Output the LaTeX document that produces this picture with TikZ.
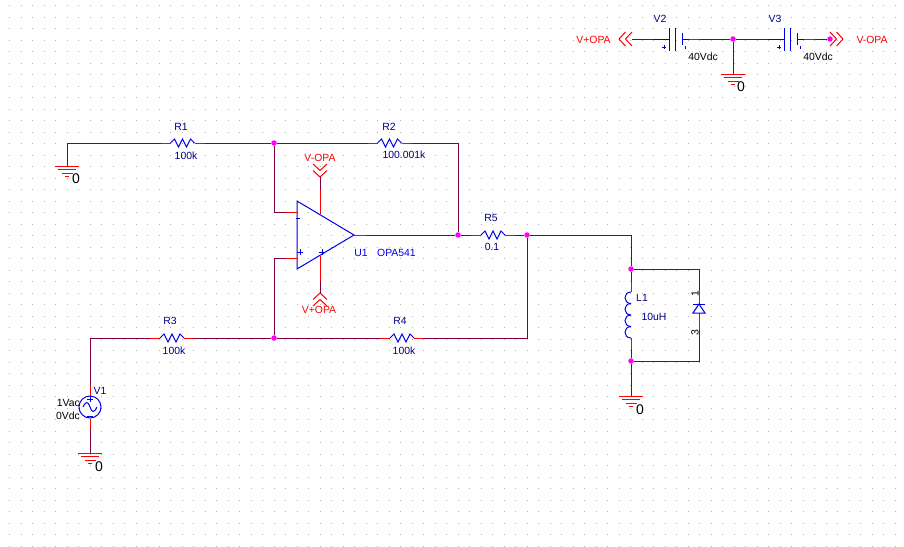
\documentclass[tikz,border=0pt]{standalone}
\usepackage{fontspec}
\setmainfont{Liberation Sans}
\definecolor{wirecol}{HTML}{7F0040}
\definecolor{bodycol}{HTML}{0000E6}
\definecolor{namecol}{HTML}{00007F}
\definecolor{dotcol}{HTML}{FF00FF}
\tikzset{
  wire/.style={draw=wirecol, line width=1pt},
  pinred/.style={draw=red, line width=1pt},
  partblue/.style={draw=bodycol, line width=1pt},
  netlbl/.style={text=red},
  namelbl/.style={text=namecol},
  partlbl/.style={text=bodycol},
  vallbl/.style={text=black},
  zerolbl/.style={text=black, font=\fontsize{14}{16}\selectfont},
  jdot/.style={circle, fill=dotcol, inner sep=0pt, minimum size=5.5pt},
  pics/resistor/.style={code={
    \coordinate (-l) at (-22,0);
    \coordinate (-r) at (22,0);
    \draw[pinred] (-22,0) -- (-12,0);
    \draw[pinred] (12,0) -- (22,0);
    \draw[partblue] (-12,0) -- (-8,-4) -- (-4,4) -- (0,-4) -- (4,4) -- (8,-4) -- (12,0);
  }},
  pics/gnd/.style={code={
    \coordinate (-t) at (0,0);
    \draw[pinred] (-12,0) -- (12,0);
    \draw[pinred] (-9,3.5) -- (9,3.5);
    \draw[pinred] (-5.5,7) -- (5.5,7);
    \draw[pinred] (-2,10.5) -- (2,10.5);
  }},
  pics/chevron/.style={code={
    \coordinate (-o) at (0,0);
    \coordinate (-a) at (13,0);
    \draw[pinred] (0,-7) -- (6.5,0) -- (0,7);
    \draw[pinred] (6.5,-7) -- (13,0) -- (6.5,7);
  }},
  pics/battery/.style={code={
    \coordinate (-l) at (-21,0);
    \coordinate (-r) at (25,0);
    \draw[partblue] (-21,0) -- (-6,0);
    \draw[partblue] (7,0) -- (14,0);
    \draw[pinred] (14,0) -- (25,0);
    \draw[partblue] (-6,-11) -- (-6,12);
    \draw[partblue] (0,-11) -- (0,12);
    \draw[partblue] (7,-6) -- (7,6);
    \draw[partblue, line width=.8pt] (-13,8) -- (-9,8) (-11,6) -- (-11,10);
    \draw[partblue, line width=.8pt] (10,7) -- (10,10);
  }}
}
\begin{document}
\begin{tikzpicture}[x=1pt, y=-1pt]
\tikzstyle{every node}=[font=\fontsize{10.4}{12}\selectfont, inner sep=0pt]
\useasboundingbox (0,0) rectangle (904,546);

% grid of dots
\foreach \i in {0,...,77}
  \foreach \j in {0,...,47}
    \fill[black!30] ({9+11.5*\i},{5+11.5*\j}) rectangle +(1,1);

% junctions
\node[jdot] (j1) at (274,143) {};
\node[jdot] (j2) at (458,235) {};
\node[jdot] (j3) at (527,235) {};
\node[jdot] (j4) at (631,269) {};
\node[jdot] (j5) at (631,361) {};
\node[jdot] (j6) at (274,338) {};
\node[jdot] (j7) at (733,39) {};
\node[jdot] (j8) at (830,39) {};

% resistors
\pic (R1) at (182.5,143) {resistor};
    \node[namelbl] (R1n) at (181,127) {R1};
    \node[namelbl] (R1v) at (186,156) {100k};
\pic (R2) at (389.5,143) {resistor};
    \node[namelbl] (R2n) at (389,127) {R2};
    \node[namelbl] (R2v) at (404,155) {100.001k};
\pic (R3) at (172,338) {resistor};
    \node[namelbl] (R3n) at (170,321) {R3};
    \node[namelbl] (R3v) at (174,351) {100k};
\pic (R4) at (402,338) {resistor};
    \node[namelbl] (R4n) at (400,321) {R4};
    \node[namelbl] (R4v) at (404,351) {100k};
\pic (R5) at (493,235) {resistor};
    \node[namelbl] (R5n) at (491,218) {R5};
    \node[namelbl] (R5v) at (492,247) {0.1};

% grounds
\pic (G1) at (67,166) {gnd};
    \node[zerolbl] (G1n) at (76,179) {0};
\pic (G2) at (90,453) {gnd};
    \node[zerolbl] (G2n) at (99,467) {0};
\pic (G3) at (631,396) {gnd};
    \node[zerolbl] (G3n) at (640,410) {0};
\pic (G4) at (733,74) {gnd};
    \node[zerolbl] (G4n) at (741,87) {0};

% opamp
\coordinate (Ua) at (297,201);
\coordinate (Ub) at (297,269);
\coordinate (Ut) at (354,235);
\draw[partblue] (Ua) -- (Ut) -- (Ub) -- cycle;
\coordinate (Um) at (286,212);
\coordinate (Umi) at (297,212);
\coordinate (Up) at (286,258);
\coordinate (Upi) at (297,258);
\coordinate (Uo) at (366,235);
\coordinate (Utop) at (320,214);
\coordinate (Ubot) at (320,256);
\coordinate (Utp) at (320,190);
\coordinate (Ubp) at (320,281);
\draw[pinred] (Um) -- (Umi);
\draw[pinred] (Up) -- (Upi);
\draw[pinred] (Ut) -- (Uo);
\draw[pinred] (Utp) -- (Utop);
\draw[pinred] (Ubp) -- (Ubot);
\draw[partblue, line width=.8pt] (296,218) -- (300,218);
\draw[partblue, line width=.8pt] (297,252) -- (303,252) (300,249) -- (300,255);
\draw[partblue, line width=.8pt] (319,252) -- (325,252) (322,249) -- (322,255);
    \node[partlbl] (U1n) at (361,253) {U1};
    \node[partlbl] (U1v) at (396.5,253) {OPA541};
\pic[rotate=-90] (Ct) at (320,164) {chevron};
    \node[netlbl] (Ctn) at (320,158) {V-OPA};
\pic[rotate=90] (Cb) at (320,306) {chevron};
    \node[netlbl] (Cbn) at (319,310) {V+OPA};

% source
\node[draw=bodycol, line width=1pt, circle, minimum size=22pt] (V1) at (90,407) {};
\coordinate (V1t) at (90,385);
\coordinate (V1b) at (90,429);
\draw[pinred] (V1t) -- (V1.north);
\draw[pinred] (V1.south) -- (V1b);
\draw[partblue] (83,407) .. controls (86,401) and (88,401) .. (90,407) .. controls (92,413) and (94,413) .. (97,407);
\draw[partblue, line width=.8pt] (87,399) -- (93,399) (90,396) -- (90,402);
\draw[partblue, line width=.8pt] (87,416) -- (93,416);
    \node[namelbl] (V1n) at (100,391) {V1};
    \node[vallbl, anchor=east] (V1a) at (80,403) {1Vac};
    \node[vallbl, anchor=east] (V1d) at (80,416) {0Vdc};

% inductor
\coordinate (L1t) at (631,281);
\coordinate (L1a) at (631,292);
\coordinate (L1c) at (631,338);
\coordinate (L1b) at (631,350);
\draw[pinred] (L1t) -- (L1a);
\draw[pinred] (L1c) -- (L1b);
\foreach \y in {292,303.5,315,326.5}
  \draw[partblue] (631,\y) .. controls (623,\y) and (623,\y+11.5) .. (631,\y+11.5);
    \node[namelbl] (L1n) at (642,298) {L1};
    \node[namelbl] (L1v) at (654,317) {10uH};

% diode
\coordinate (D1t) at (699,290);
\coordinate (D1a) at (699,304);
\coordinate (D1c) at (699,313);
\coordinate (D1b) at (699,330);
\draw[pinred] (D1t) -- (D1a);
\draw[pinred] (D1c) -- (D1b);
\draw[partblue] (693,304) -- (705,304);
\draw[partblue] (693,313) -- (705,313) -- (699,304) -- cycle;
    \node[text=black, rotate=90] (D1p) at (695,294) {1};
    \node[text=black, rotate=90] (D1m) at (695,333) {3};

% supplies
\pic (V2) at (675,39) {battery};
    \node[namelbl] (V2n) at (660,19) {V2};
    \node[vallbl] (V2v) at (703,57) {40Vdc};
\pic (V3) at (790,39) {battery};
    \node[namelbl] (V3n) at (775,19) {V3};
    \node[vallbl] (V3v) at (818,57) {40Vdc};
\pic[rotate=180] (Cl) at (632,39) {chevron};
    \node[netlbl] (Cln) at (593.5,40) {V+OPA};
\pic (Cr) at (830,39) {chevron};
    \node[netlbl] (Crn) at (872,40) {V-OPA};

% wires
\draw[wire] (G1-t) |- (R1-l);
\draw[wire] (R1-r) -- (j1) -- (R2-l);
\draw[wire] (R2-r) -| (j2);
\draw[wire] (j1) |- (Um);
\draw[wire] (j6) |- (Up);
\draw[wire] (Uo) -- (j2) -- (R5-l);
\draw[wire] (R5-r) -- (j3) -| (j4);
\draw[wire] (j3) |- (R4-r);
\draw[wire] (R4-l) -- (j6) -- (R3-r);
\draw[wire] (R3-l) -| (V1t);
\draw[wire] (V1b) -- (G2-t);
\draw[wire] (Ct-a) -- (Utp);
\draw[wire] (Cb-a) -- (Ubp);
\draw[wire] (j4) -- (L1t);
\draw[wire] (L1b) -- (j5) -- (G3-t);
\draw[wire] (j4) -| (D1t);
\draw[wire] (D1b) |- (j5);
\draw[wire] (Cl-o) -- (V2-l);
\draw[wire] (V2-r) -- (j7) -- (V3-l);
\draw[wire] (V3-r) -- (j8);
\draw[wire] (j7) -- (G4-t);

\end{tikzpicture}
\end{document}
